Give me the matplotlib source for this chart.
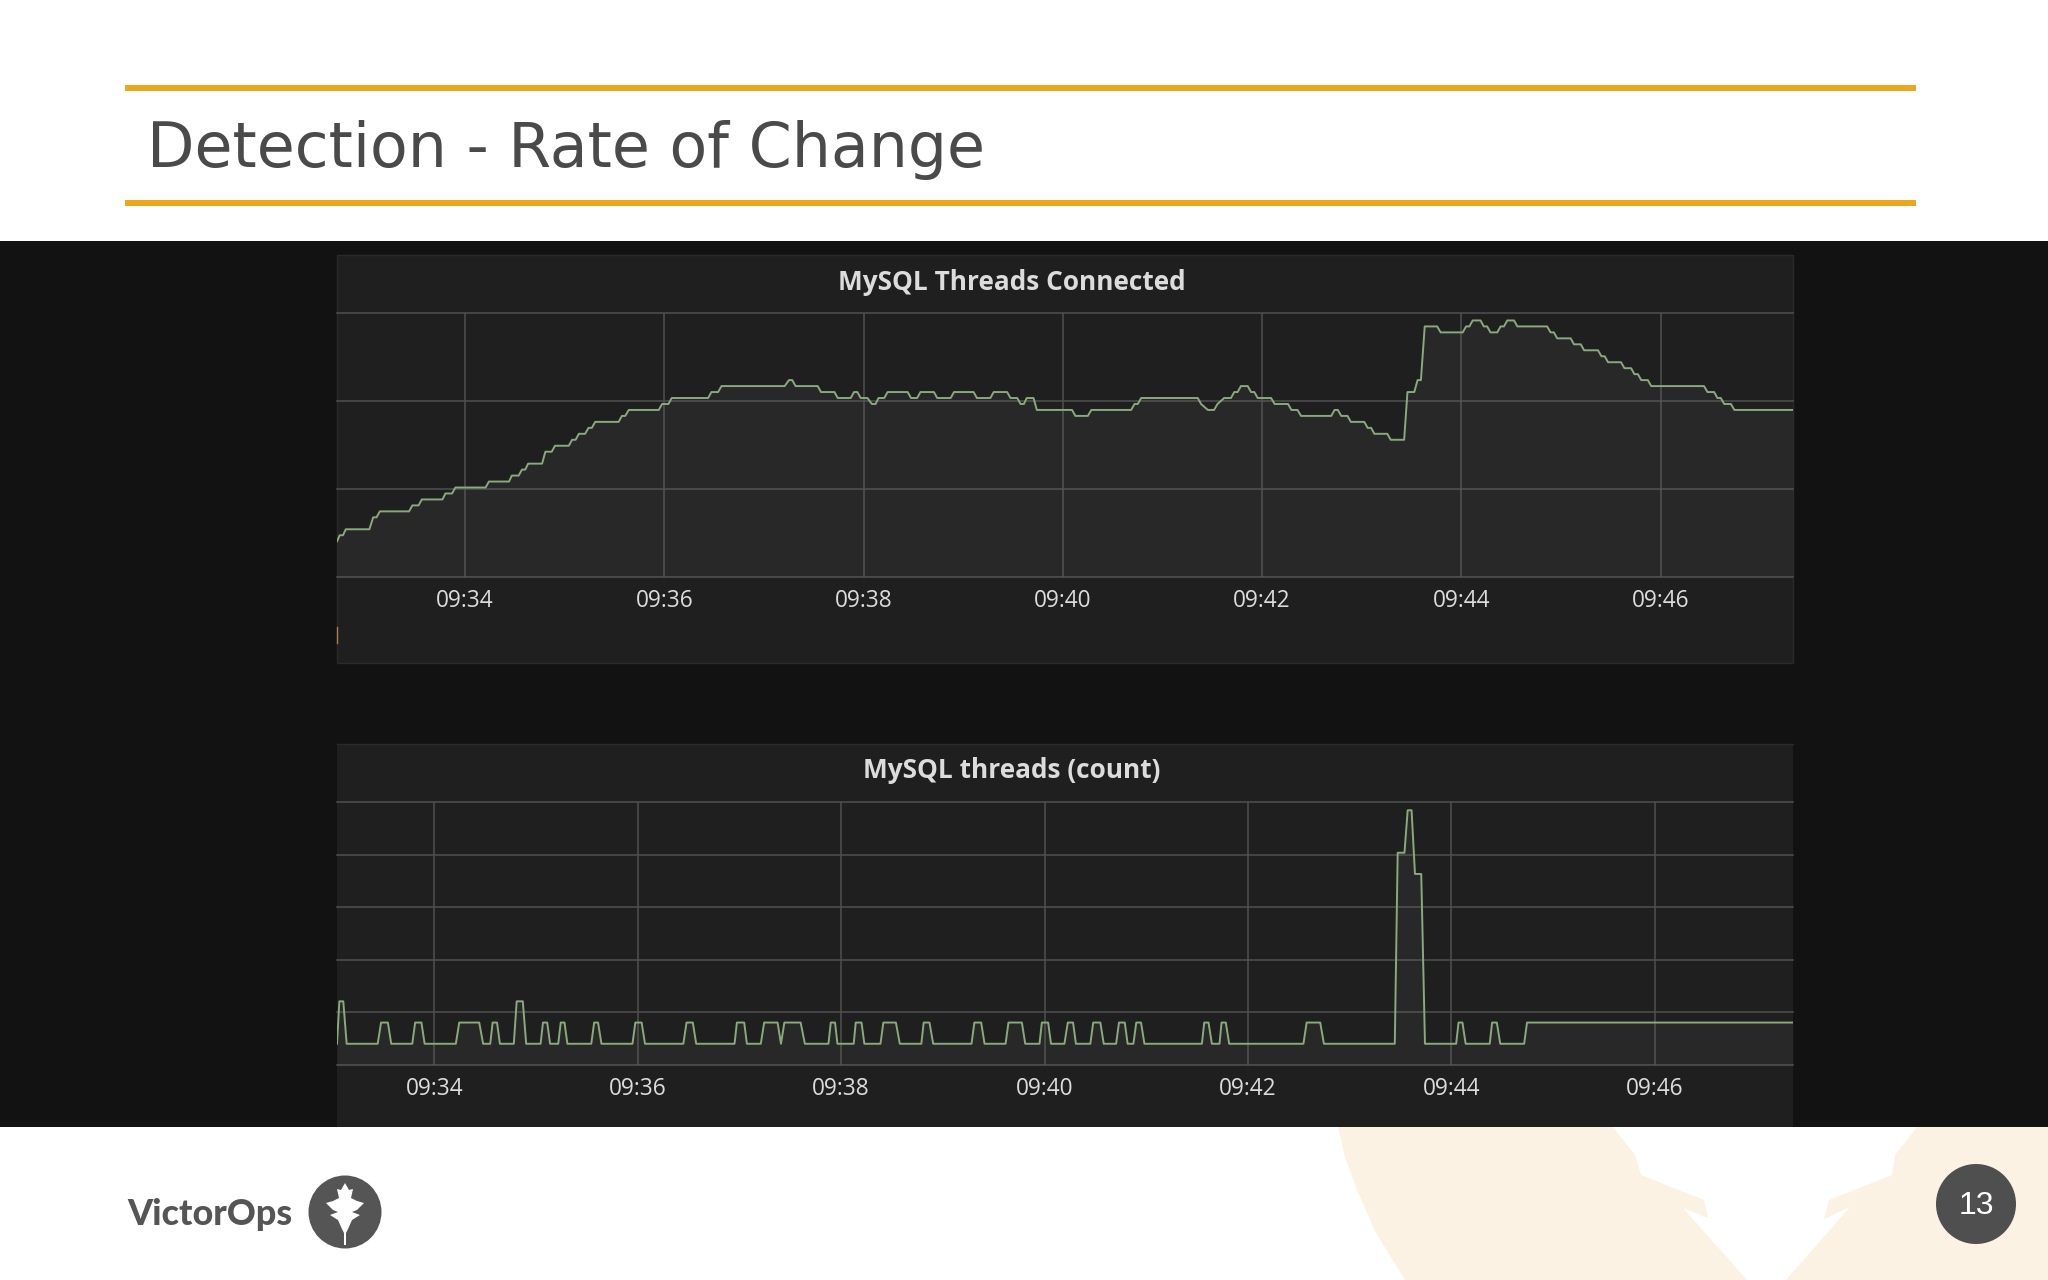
'''Detection - Rate of Change slide with two dashboard panels'''

import matplotlib
matplotlib.use('Agg')
import matplotlib.pyplot as plt
import matplotlib.patches as patches

WIDTH, HEIGHT = 2048, 1280

# x values are seconds after 09:32
TICK_TIMES = [120, 240, 360, 480, 600, 720, 840]
TICK_LABELS = ['09:34', '09:36', '09:38', '09:40', '09:42', '09:44', '09:46']

connected_t = [
    43, 44.5, 46.5, 48.2, 62.4, 64.7, 66.7, 68.7, 86.3, 88.3, 92, 94,
    106.4, 108.2, 112.2, 114.2, 132.4, 134.4, 146.5, 148.2, 152.3, 154.3, 156.3, 158,
    166.4, 168.4, 172.2, 174.2, 182.5, 184.5, 186.6, 188.6, 192.3, 194.4, 196.4, 198.4,
    212.5, 214.5, 216.5, 218.6, 236.7, 238.7, 242.5, 244.5, 266.4, 268.4, 272.4, 274.5,
    312.5, 315.1, 317.1, 319.1, 332.4, 334.4, 342.5, 344.5, 352.3, 354.3, 356.3, 358.3,
    362.4, 365, 367.3, 369, 372.5, 374.5, 386.6, 388.6, 392.3, 394.3, 402.4, 404.4,
    412.5, 414.5, 426.3, 428.3, 436.4, 438.4, 446.5, 448.5, 452.6, 454.6, 456.6, 458.3,
    462.4, 464.4, 485.6, 487.6, 495.1, 497.2, 521.2, 523.2, 525.2, 527.2, 561.3, 563.3,
    567.4, 571.1, 573.2, 577.2, 581.3, 583.3, 585.3, 587.3, 591.4, 593.4, 595.4, 597.4,
    605.5, 607.6, 615.7, 617.7, 621.4, 623.5, 641.7, 643.7, 645.7, 647.7, 651.5, 653.5,
    661.6, 663.6, 665.7, 667.7, 675.5, 677.5, 685.6, 687.6, 691.7, 693.7, 695.7, 698,
    705.5, 707.6, 720.9, 722.9, 724.9, 726.9, 731.6, 733.6, 735.6, 737.6, 741.7, 743.7,
    745.7, 747.7, 751.8, 753.8, 771.7, 773.8, 775.8, 777.8, 785.9, 787.9, 792, 794,
    802.4, 804.4, 806.4, 808.4, 816.2, 818.3, 822.3, 824.3, 826.4, 828.4, 832.4, 834.4,
    866.2, 868.3, 872.3, 874.3, 876.3, 878.4, 882.4, 884.5, 919.8,
]
connected_v = [
    6, 7, 7, 8, 8, 10, 10, 11, 11, 12, 12, 13,
    13, 14, 14, 15, 15, 16, 16, 17, 17, 18, 18, 19,
    19, 21, 21, 22, 22, 23, 23, 24, 24, 25, 25, 26,
    26, 27, 27, 28, 28, 29, 29, 30, 30, 31, 31, 32,
    32, 33, 33, 32, 32, 31, 31, 30, 30, 31, 31, 30,
    30, 29, 29, 30, 30, 31, 31, 30, 30, 31, 31, 30,
    30, 31, 31, 30, 30, 31, 31, 30, 30, 29, 29, 30,
    30, 28, 28, 27, 27, 28, 28, 29, 29, 30, 30, 29,
    28, 28, 29, 30, 30, 31, 31, 32, 32, 31, 31, 30,
    30, 29, 29, 28, 28, 27, 27, 28, 28, 27, 27, 26,
    26, 25, 25, 24, 24, 23, 23, 31, 31, 33, 33, 42,
    42, 41, 41, 42, 42, 43, 43, 42, 42, 41, 41, 42,
    42, 43, 43, 42, 42, 41, 41, 40, 40, 39, 39, 38,
    38, 37, 37, 36, 36, 35, 35, 34, 34, 33, 33, 32,
    32, 31, 31, 30, 30, 29, 29, 28, 28,
]

threads_t = [
    62.6, 64, 66.3, 68.3,
    86.6, 88.6, 92.6, 94.6,
    107, 108.7, 112.4, 114.3,
    132.7, 134.7, 146.5, 148.8,
    153, 154.4, 157, 158.7,
    166.9, 168.6, 172.2, 174.2,
    182.7, 184.1, 186.6, 188.3,
    193.1, 194.6, 196.8, 198.5,
    212.6, 214.3, 216.6, 218.6,
    236.9, 238.6, 242.3, 244.3,
    266.9, 268.8, 272.5, 274.5,
    297.1, 298.5, 302.8, 304.4,
    312.6, 314.6, 322.5, 324.5,
    326.5, 336.1, 338.6,
    352.5, 353.9, 356.4, 357.8,
    367.4, 368.6, 372, 373.7,
    383.2, 384.9, 392.3, 394.6,
    407.3, 408.7, 412.1, 414.3,
    436.9, 438.6, 442.6, 444.6,
    457, 458.7, 466.6, 468.6,
    477, 478.4, 482.1, 483.8,
    491.7, 493.7, 496.8, 498.5,
    507, 508.7, 512.9, 514.9,
    522.2, 523.9, 527.3, 529,
    532.4, 534.1, 536.9, 538.9,
    572.8, 574.2, 576.7, 578.7,
    583.2, 584.4, 586.9, 588.9,
    632.7, 634.6, 642.6, 644.8,
    686.6, 688.3, 692.3, 694.2, 696.5, 698.5, 702.2, 704.4,
    722.8, 724.2, 726.5, 728.4,
    742.6, 744, 746.8, 748.8,
    762.9, 764.6, 921.5,
]
threads_v = [
    1, 3, 3, 1,
    1, 2, 2, 1,
    1, 2, 2, 1,
    1, 2, 2, 1,
    1, 2, 2, 1,
    1, 3, 3, 1,
    1, 2, 2, 1,
    1, 2, 2, 1,
    1, 2, 2, 1,
    1, 2, 2, 1,
    1, 2, 2, 1,
    1, 2, 2, 1,
    1, 2, 2, 1,
    2, 2, 1,
    1, 2, 2, 1,
    1, 2, 2, 1,
    1, 2, 2, 1,
    1, 2, 2, 1,
    1, 2, 2, 1,
    1, 2, 2, 1,
    1, 2, 2, 1,
    1, 2, 2, 1,
    1, 2, 2, 1,
    1, 2, 2, 1,
    1, 2, 2, 1,
    1, 2, 2, 1,
    1, 2, 2, 1,
    1, 2, 2, 1,
    1, 10, 10, 12, 12, 9, 9, 1,
    1, 2, 2, 1,
    1, 2, 2, 1,
    1, 2, 2,
]

connected_grid = [0, 14.75, 29.5, 44.25]
threads_grid = [0, 2.48, 4.96, 7.43, 9.91, 12.39]

LINE = '#8aa97d'
GRID = '#505050'
PANEL = '#1f1f20'
TEXT = '#dcdcdd'

fig = plt.figure(figsize=(WIDTH / 100, HEIGHT / 100), dpi=100, facecolor='white')

# everything around the charts, in pixel coordinates
bg = fig.add_axes([0, 0, 1, 1])
bg.set_xlim(0, WIDTH)
bg.set_ylim(HEIGHT, 0)
bg.axis('off')

bg.add_patch(patches.Polygon([(1338, 1127), (1345, 1157), (1357, 1190), (1376, 1233), (1405, 1280), (1747, 1280),
                              (1683, 1208), (1708, 1218), (1704, 1200), (1641, 1175), (1635, 1155), (1613, 1127)],
                             color='#fbf2e3', lw=0))
bg.add_patch(patches.Polygon([(1917, 1127), (1895, 1155), (1892, 1175), (1829, 1200), (1824, 1219), (1850, 1207),
                              (1786, 1280), (2048, 1280), (2048, 1127)], color='#fbf2e3', lw=0))

bg.add_patch(patches.Rectangle((0, 241), WIDTH, 886, color='#131213', lw=0))
bg.add_patch(patches.Rectangle((337, 255), 1456, 408, facecolor=PANEL, edgecolor='#2a2a2a', lw=1))
bg.add_patch(patches.Rectangle((337, 744), 1456, 383, facecolor=PANEL, lw=0))
bg.plot([337, 1793], [744, 744], color='#2a2a2a', lw=1)
bg.plot([337, 337], [627, 643], color='#b07a4a', lw=1)

bg.add_patch(patches.Rectangle((125, 85), 1791, 6, color='#eba81f', lw=0))
bg.add_patch(patches.Rectangle((125, 200), 1791, 6, color='#eba81f', lw=0))
bg.text(147, 167, 'Detection - Rate of Change', fontsize=44.5, color='#4a4a4a', family='DejaVu Sans', va='baseline')

bg.text(1012, 283, 'MySQL Threads Connected', fontsize=18.9, color=TEXT, family='Open Sans', weight='bold',
        ha='center', va='center')
bg.text(1012, 771, 'MySQL threads (count)', fontsize=18.9, color=TEXT, family='Open Sans', weight='bold',
        ha='center', va='center')

# footer
bg.text(127, 1225, 'VictorOps', fontsize=25.8, color='#555555', family='Lato', weight='black', va='baseline')
bg.add_patch(patches.Circle((345, 1212), 36.5, color='#555555', lw=0))
leaf_right = [(0, -29), (4, -22), (8, -23), (6, -14), (12, -11), (19, -9), (12, -2), (7, 0), (15, 3), (7, 8), (3, 17),
              (1, 21), (1, 33)]
leaf = [(345 + dx, 1212 + dy) for dx, dy in leaf_right] + [(345 - dx, 1212 + dy) for dx, dy in reversed(leaf_right)]
bg.add_patch(patches.Polygon(leaf, color='white', lw=0))

bg.add_patch(patches.Circle((1976, 1204), 40, color='#4f4f4f', lw=0))
bg.text(1976, 1206, '13', fontsize=23, color='white', family='Liberation Sans', ha='center', va='center')


def panel(top, bottom, xlim, ylim, grid, t, v):
    ax = fig.add_axes([337 / WIDTH, 1 - bottom / HEIGHT, 1456 / WIDTH, (bottom - top) / HEIGHT])
    ax.set_facecolor('none')
    ax.set_xlim(*xlim)
    ax.set_ylim(*ylim)
    ax.set_xticks(TICK_TIMES)
    ax.set_xticklabels(TICK_LABELS, family='Open Sans', fontsize=16.3, color=TEXT, weight=500)
    ax.set_yticks(grid)
    ax.set_yticklabels([])
    ax.tick_params(length=0, pad=8.3)
    ax.grid(True, color=GRID, lw=1.1)
    ax.set_axisbelow(True)
    for side in ax.spines.values():
        side.set_visible(False)
    for tick in ax.yaxis.get_gridlines():
        tick.set_clip_on(False)
    ax.fill_between(t, v, 0, color='#98a88a', alpha=0.065, lw=0)
    ax.plot(t, v, color=LINE, lw=1.4)
    return ax


panel(313, 577, (42.9, 919.8), (0, 44.25), connected_grid, connected_t, connected_v)
panel(802, 1065, (62.6, 921.5), (0, 12.39), threads_grid, threads_t, threads_v)

plt.savefig('out.png', dpi=100)
